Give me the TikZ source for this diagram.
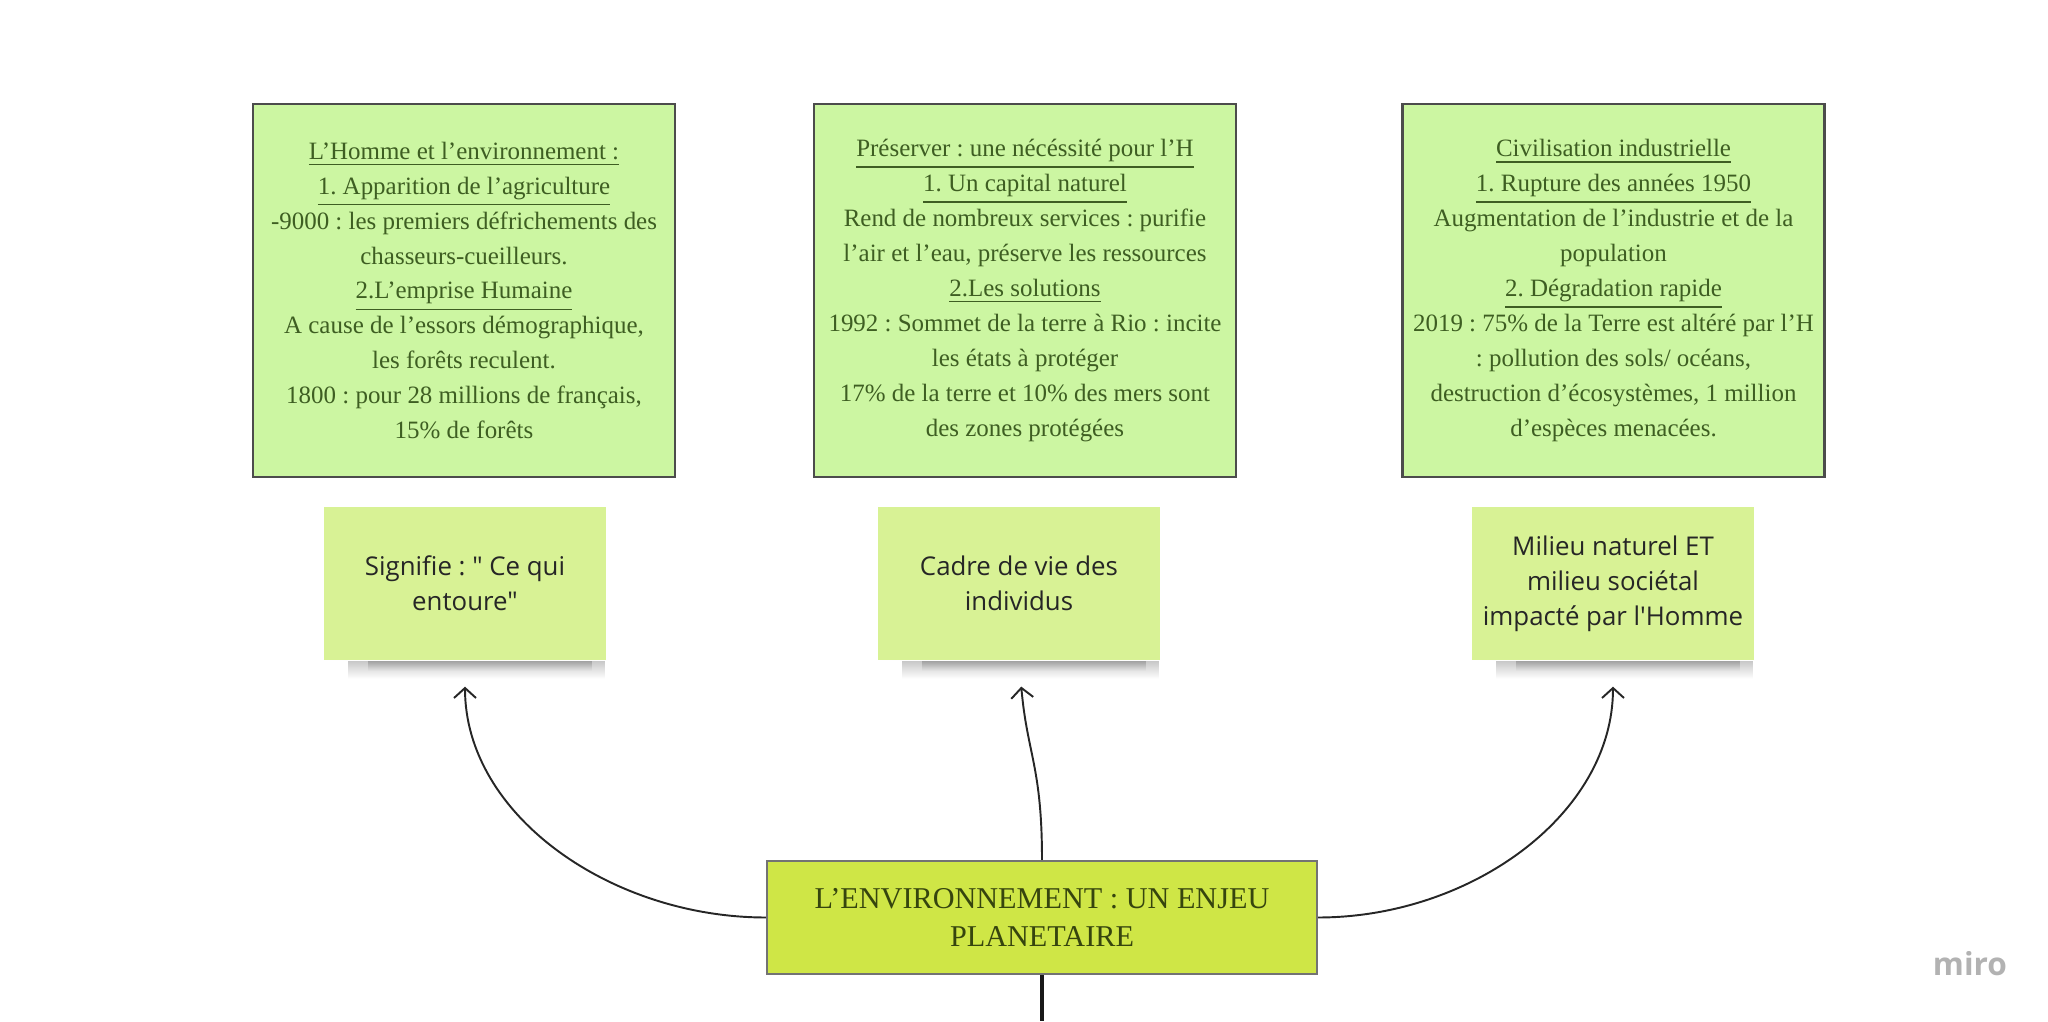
\documentclass[tikz,border=0pt]{standalone}
\usepackage{fontspec}
\setmainfont{Liberation Serif}
\newfontfamily\postitfont{Open Sans}
\usetikzlibrary{arrows.meta,fadings}
\frenchspacing

\definecolor{vertCadre}{HTML}{CCF6A2}
\definecolor{vertPostit}{HTML}{D8F295}
\definecolor{vertCentre}{HTML}{CFE646}
\definecolor{texteVert}{HTML}{3E5E22}
\definecolor{texteCentre}{HTML}{36450E}

\begin{document}
\begin{tikzpicture}[
    % Style des cadres du haut (les trois parties du cours)
    cadre/.style={rectangle, draw=black!70, line width=0.8pt, fill=vertCadre, minimum width=4.22cm, minimum height=3.73cm, inner sep=0pt, align=center, text=texteVert, font=\fontsize{7.1}{9.93}\selectfont},
    % Style des post-it (definitions)
    postit/.style={rectangle, fill=vertPostit, minimum width=2.82cm, minimum height=1.53cm, inner sep=0pt, align=center, text=black!85, font=\postitfont\fontsize{7.35}{10}\selectfont},
    % Style du theme central
    centre/.style={rectangle, draw=black!55, line width=0.6pt, fill=vertCentre, minimum width=5.5cm, minimum height=1.13cm, inner sep=0pt, align=center, text=texteCentre, font=\fontsize{8.6}{10.8}\selectfont},
    % Style des fleches
    fleche/.style={-{Straight Barb[length=1mm, width=2.2mm]}, line width=0.55pt, black!85, shorten >=0.26cm}
]
    \useasboundingbox (0,0) rectangle (20.48,10.21);

    % --- CADRES DU HAUT ---
    \node[cadre] (homme) at (4.64,7.305) {%
        \underline{L'Homme et l'environnement :}\\
        \underline{1. Apparition de l'agriculture}\\
        -9000 : les premiers défrichements des\\
        chasseurs-cueilleurs.\\
        \underline{2.L'emprise Humaine}\\
        A cause de l'essors démographique,\\
        les forêts reculent.\\
        1800 : pour 28 millions de français,\\
        15\% de forêts};
    \node[cadre] (preserver) at (10.25,7.305) {%
        \underline{Préserver : une nécéssité pour l'H}\\
        \underline{1. Un capital naturel}\\
        Rend de nombreux services : purifie\\
        l'air et l'eau, préserve les ressources\\
        \underline{2.Les solutions}\\
        1992 : Sommet de la terre à Rio : incite\\
        les états à protéger\\
        17\% de la terre et 10\% des mers sont\\
        des zones protégées};
    \node[cadre] (civilisation) at (16.135,7.305) {%
        \underline{Civilisation industrielle}\\
        \underline{1. Rupture des années 1950}\\
        Augmentation de l'industrie et de la\\
        population\\
        \underline{2. Dégradation rapide}\\
        2019 : 75\% de la Terre est altéré par l'H\\
        : pollution des sols/ océans,\\
        destruction d'écosystèmes, 1 million\\
        d'espèces menacées.};

    % --- POST-IT ---
    \node[postit] (signifie) at (4.65,4.375) {Signifie : " Ce qui\\entoure"};
    \node[postit] (cadrevie) at (10.19,4.375) {Cadre de vie des\\individus};
    \node[postit] (milieu)   at (16.13,4.375) {Milieu naturel ET\\milieu sociétal\\impacté par l'Homme};

    % ombre sous chaque post-it
    \foreach \p in {signifie,cadrevie,milieu}{
        \fill[black, opacity=0.22, path fading=south] ([xshift=0.25cm]\p.south west) rectangle ([xshift=-0.02cm, yshift=-0.18cm]\p.south east);
        \fill[black, opacity=0.2, path fading=south] ([xshift=0.45cm]\p.south west) rectangle ([xshift=-0.15cm, yshift=-0.1cm]\p.south east);
    }

    % --- THEME CENTRAL ---
    \node[centre] (enjeu) at (10.42,1.035) {L'ENVIRONNEMENT : UN ENJEU\\PLANETAIRE};
    \coordinate (bas) at (10.42,0);

    % --- FLECHES ---
    \draw[fleche] (enjeu.west) to[out=180, in=-90] (signifie.south);
    \draw[fleche] (enjeu.north) to[out=90, in=-85, looseness=1.2] (cadrevie.south);
    \draw[fleche] (enjeu.east) to[out=0, in=-90] (milieu.south);
    \draw[line width=1.2pt, black!90] (enjeu.south) -- (bas);

    % filigrane
    \node[text=black!30, font=\postitfont\bfseries\fontsize{9}{9}\selectfont] (miro) at (19.70,0.57) {miro};

\end{tikzpicture}
\end{document}
